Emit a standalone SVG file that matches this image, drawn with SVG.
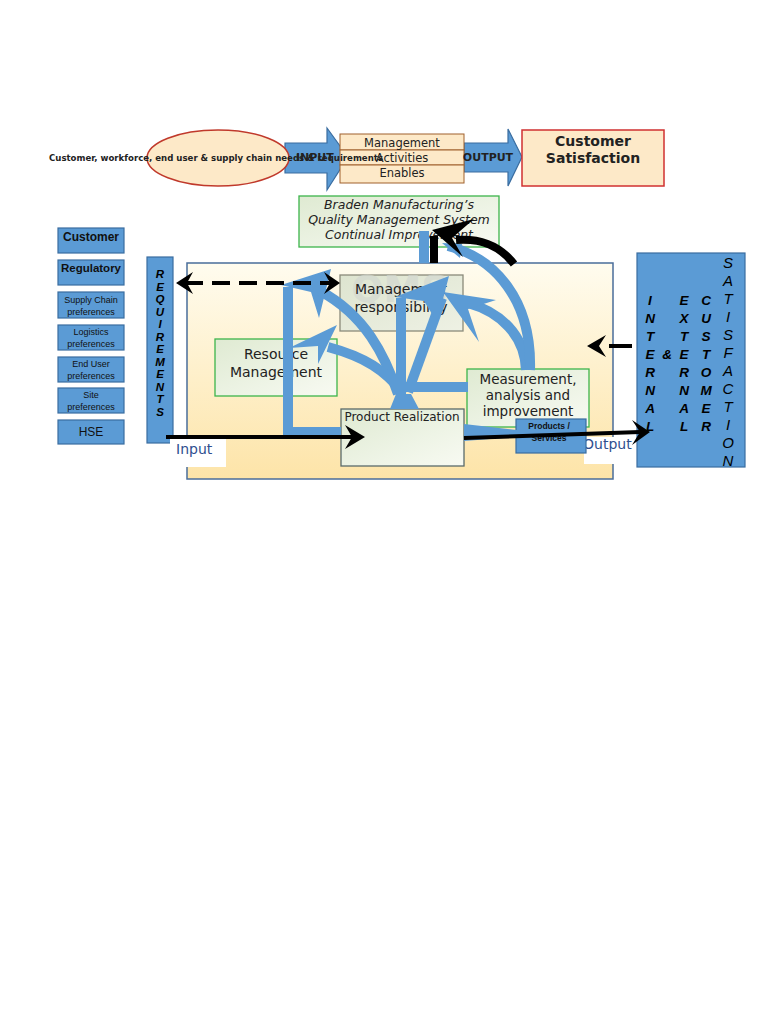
<svg xmlns="http://www.w3.org/2000/svg" width="768" height="1024" viewBox="0 0 768 1024">
<defs>
<linearGradient id="gCont" x1="0" y1="0" x2="0" y2="1">
<stop offset="0" stop-color="#fffcef"/><stop offset="1" stop-color="#fde4a8"/>
</linearGradient>
<linearGradient id="gGreen" x1="0" y1="0" x2="1" y2="1">
<stop offset="0" stop-color="#dfead2"/><stop offset="0.6" stop-color="#eef4e6"/><stop offset="1" stop-color="#f8faf2"/>
</linearGradient>
<linearGradient id="gGray" x1="0" y1="0" x2="1" y2="1">
<stop offset="0" stop-color="#dde4cf"/><stop offset="1" stop-color="#eef1e4"/>
</linearGradient>
<style>
.blueBox{fill:#5b9bd5;stroke:#3a6da0;stroke-width:1.2}
.peach{fill:#fde9c8;stroke:#a0602d;stroke-width:1}
.green{fill:url(#gGreen);stroke:#3cb44b;stroke-width:1.3}
.t{font-family:"DejaVu Sans",sans-serif;fill:#222}
.a{font-family:"Liberation Sans",Arial,sans-serif;fill:#111}
.bl{fill:none;stroke:#5b9bd5;stroke-width:10}
.bf{fill:#5b9bd5}
.k{fill:none;stroke:#000;stroke-width:4}
.kf{fill:#000}
.vi{font-family:"Liberation Sans",Arial,sans-serif;font-weight:bold;font-style:italic;fill:#000;text-anchor:middle}
</style>
</defs>
<rect width="768" height="1024" fill="#fff"/>

<g id="top-row">
<polygon points="285,143 327,143 327,128 348,157 327,190 327,173 285,173" class="blueBox"/>
<polygon points="464,143 508,143 508,129 522,157 508,186 508,172 464,172" class="blueBox"/>
<ellipse cx="218" cy="158" rx="71" ry="28" fill="#fde9c8" stroke="#c0392b" stroke-width="1.5"/>
</g>

<g id="activities">
<rect x="340" y="134" width="124" height="16" class="peach"/>
<rect x="340" y="150" width="124" height="15" class="peach"/>
<rect x="340" y="165" width="124" height="18" class="peach"/>
<text x="402" y="147" font-size="11.5" text-anchor="middle" class="t">Management</text>
<text x="402" y="162" font-size="11.5" text-anchor="middle" class="t">Activities</text>
<text x="402" y="177" font-size="11.5" text-anchor="middle" class="t">Enables</text>
</g>

<g id="top-labels">
<text x="296" y="161" font-size="11" font-weight="bold" class="t">INPUT</text>
<text x="49" y="161" font-size="9.5" font-weight="bold" class="t" textLength="334" lengthAdjust="spacingAndGlyphs">Customer, workforce, end user &amp; supply chain needs &amp; requirements</text>
<text x="488" y="161" font-size="11" font-weight="bold" text-anchor="middle" class="t">OUTPUT</text>
</g>

<g id="customer-satisfaction">
<rect x="522" y="130" width="142" height="56" fill="#fde9c8" stroke="#d03030" stroke-width="1.5"/>
<text x="593" y="146" font-size="14" font-weight="bold" text-anchor="middle" class="t">Customer</text>
<text x="593" y="163" font-size="14" font-weight="bold" text-anchor="middle" class="t">Satisfaction</text>
</g>

<g id="braden">
<rect x="299" y="196" width="200" height="51" class="green"/>
<text x="399" y="209" font-size="12.5" font-style="italic" text-anchor="middle" class="t">Braden Manufacturing’s</text>
<text x="399" y="224" font-size="12.5" font-style="italic" text-anchor="middle" class="t">Quality Management System</text>
<text x="399" y="239" font-size="12.5" font-style="italic" text-anchor="middle" class="t">Continual Improvement</text>
</g>

<g id="left-inputs">
<rect x="58" y="228" width="66" height="25" class="blueBox"/>
<text x="91" y="241" font-size="12" font-weight="bold" text-anchor="middle" class="a">Customer</text>
<rect x="58" y="260" width="66" height="25" class="blueBox"/>
<text x="91" y="272" font-size="11.5" font-weight="bold" text-anchor="middle" class="a">Regulatory</text>
<rect x="58" y="292" width="66" height="26" class="blueBox"/>
<text x="91" y="303" font-size="9" text-anchor="middle" class="a">Supply Chain</text>
<text x="91" y="315" font-size="9" text-anchor="middle" class="a">preferences</text>
<rect x="58" y="325" width="66" height="25" class="blueBox"/>
<text x="91" y="335" font-size="9" text-anchor="middle" class="a">Logistics</text>
<text x="91" y="347" font-size="9" text-anchor="middle" class="a">preferences</text>
<rect x="58" y="357" width="66" height="25" class="blueBox"/>
<text x="91" y="367" font-size="9" text-anchor="middle" class="a">End User</text>
<text x="91" y="379" font-size="9" text-anchor="middle" class="a">preferences</text>
<rect x="58" y="388" width="66" height="25" class="blueBox"/>
<text x="91" y="398" font-size="9" text-anchor="middle" class="a">Site</text>
<text x="91" y="410" font-size="9" text-anchor="middle" class="a">preferences</text>
<rect x="58" y="420" width="66" height="24" class="blueBox"/>
<text x="91" y="436" font-size="12" text-anchor="middle" class="a">HSE</text>
</g>

<g id="requirements">
<rect x="147" y="257" width="26" height="186" class="blueBox"/>
<text class="vi" font-size="11.5">
<tspan x="160" y="278">R</tspan><tspan x="160" y="290.5">E</tspan><tspan x="160" y="303">Q</tspan><tspan x="160" y="315.5">U</tspan><tspan x="160" y="328">I</tspan><tspan x="160" y="340.5">R</tspan><tspan x="160" y="353">E</tspan><tspan x="160" y="365.5">M</tspan><tspan x="160" y="378">E</tspan><tspan x="160" y="390.5">N</tspan><tspan x="160" y="403">T</tspan><tspan x="160" y="415.5">S</tspan>
</text>
</g>

<g id="qms-container">
<rect x="187" y="263" width="426" height="216" fill="url(#gCont)" stroke="#4a6d9a" stroke-width="1.5"/>
</g>

<g id="management-responsibility">
<rect x="340" y="275" width="123" height="56" fill="url(#gGray)" stroke="#8a8a7a" stroke-width="1.3"/>
<text x="400" y="302" font-size="38" font-weight="bold" text-anchor="middle" class="t" style="fill:#d3d8d0" opacity="0.7">QMS</text>
<text x="401" y="294" font-size="14" text-anchor="middle" class="t">Management</text>
<text x="401" y="312" font-size="14" text-anchor="middle" class="t">responsibility</text>
</g>

<g id="resource-management">
<rect x="215" y="339" width="122" height="57" class="green"/>
<text x="276" y="359" font-size="14" text-anchor="middle" class="t">Resource</text>
<text x="276" y="377" font-size="14" text-anchor="middle" class="t">Management</text>
</g>

<g id="measurement">
<rect x="467" y="369" width="122" height="58" class="green"/>
<text x="528" y="384" font-size="13.5" text-anchor="middle" class="t">Measurement,</text>
<text x="528" y="400" font-size="13.5" text-anchor="middle" class="t">analysis and</text>
<text x="528" y="416" font-size="13.5" text-anchor="middle" class="t">improvement</text>
</g>

<g id="product-realization">
<rect x="341" y="409" width="123" height="57" fill="url(#gGreen)" stroke="#5a6a6a" stroke-width="1.3"/>
<text x="402" y="421" font-size="12" text-anchor="middle" class="t">Product Realization</text>
</g>

<g id="io-labels">
<rect x="170" y="438" width="56" height="29" fill="#fff"/>
<text x="176" y="454" font-size="14" class="t" style="fill:#2f4f8f">Input</text>
<rect x="584" y="437" width="63" height="27" fill="#fff"/>
<text x="583" y="449" font-size="14" class="t" style="fill:#2f4f8f">Output</text>
</g>

<g id="products-services">
<rect x="516" y="419" width="70" height="34" class="blueBox"/>
<text x="549" y="429" font-size="8.5" font-weight="bold" text-anchor="middle" class="a">Products  /</text>
<text x="549" y="441" font-size="8.5" font-weight="bold" text-anchor="middle" class="a">Services</text>
</g>

<g id="customer-satisfaction-bar">
<rect x="637" y="253" width="108" height="214" class="blueBox"/>
<text class="vi" font-size="13.5">
<tspan x="650" y="305">I</tspan><tspan x="650" y="323">N</tspan><tspan x="650" y="341">T</tspan><tspan x="650" y="359">E</tspan><tspan x="650" y="377">R</tspan><tspan x="650" y="395">N</tspan><tspan x="650" y="413">A</tspan><tspan x="650" y="431">L</tspan>
</text>
<text x="667" y="359" class="vi" font-size="13.5">&amp;</text>
<text class="vi" font-size="13.5">
<tspan x="684" y="305">E</tspan><tspan x="684" y="323">X</tspan><tspan x="684" y="341">T</tspan><tspan x="684" y="359">E</tspan><tspan x="684" y="377">R</tspan><tspan x="684" y="395">N</tspan><tspan x="684" y="413">A</tspan><tspan x="684" y="431">L</tspan>
</text>
<text class="vi" font-size="13.5">
<tspan x="706" y="305">C</tspan><tspan x="706" y="323">U</tspan><tspan x="706" y="341">S</tspan><tspan x="706" y="359">T</tspan><tspan x="706" y="377">O</tspan><tspan x="706" y="395">M</tspan><tspan x="706" y="413">E</tspan><tspan x="706" y="431">R</tspan>
</text>
<text class="vi" font-size="15" style="font-weight:normal">
<tspan x="728" y="268">S</tspan><tspan x="728" y="286">A</tspan><tspan x="728" y="304">T</tspan><tspan x="728" y="322">I</tspan><tspan x="728" y="340">S</tspan><tspan x="728" y="358">F</tspan><tspan x="728" y="376">A</tspan><tspan x="728" y="394">C</tspan><tspan x="728" y="412">T</tspan><tspan x="728" y="430">I</tspan><tspan x="728" y="448">O</tspan><tspan x="728" y="466">N</tspan>
</text>
</g>

<g id="connectors">
<polyline points="341,432 288,432 288,287" class="bl"/>
<polygon points="331,269 281,285 311,292 319,318" class="bf"/>
<path d="M398,394 C385,355 365,315 320,291" class="bl"/>
<path d="M404,394 C385,370 365,357 328,347" class="bl"/>
<polygon points="337,325 289,348 318,346 318,364" class="bf"/>
<line x1="401" y1="298" x2="401" y2="398" class="bl"/>
<line x1="408" y1="392" x2="442" y2="298" class="bl"/>
<polygon points="449,276 395,297 424,301 437,322" class="bf"/>
<path d="M526,370 C525,335 500,312 468,303" class="bl"/>
<polygon points="443,292 496,300 468,309 479,342" class="bf"/>
<path d="M530,370 C532,300 495,258 448,246" class="bl"/>
<line x1="424" y1="231" x2="424" y2="263" class="bl"/>
<polygon points="442,243 462,244 460,258" class="bf"/>
<line x1="404" y1="387" x2="468" y2="387" class="bl"/>
<polygon points="464,424 517,430 517,437 464,441" class="bf"/>
<polygon points="396,394 411,394 419,409 390,409" class="bf"/>
<path d="M514,264 C500,246 482,238 456,240" fill="none" stroke="#000" stroke-width="8"/>
<line x1="434" y1="236" x2="434" y2="263" stroke="#000" stroke-width="8"/>
<polygon points="432,230 474,219 452,238 463,257" class="kf"/>
<line x1="185" y1="283" x2="330" y2="283" class="k" stroke-dasharray="18 9"/>
<polygon points="176,283 193,272 187,283 193,294" class="kf"/>
<polygon points="340,283 324,272 330,283 324,294" class="kf"/>
<line x1="166" y1="437" x2="354" y2="437" class="k"/>
<polygon points="365,437 345,425 352,437 345,449" class="kf"/>
<line x1="464" y1="438" x2="640" y2="432" class="k"/>
<polygon points="650,432 632,420 640,432 632,445" class="kf"/>
<line x1="609" y1="346" x2="632" y2="346" class="k"/>
<polygon points="587,346 606,335 599,346 606,357" class="kf"/>
</g>
</svg>
